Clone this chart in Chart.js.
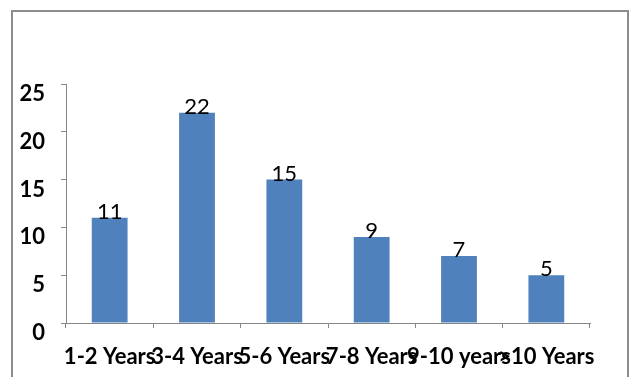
<!DOCTYPE html>
<html>
<head>
<meta charset="utf-8">
<script src="https://cdn.jsdelivr.net/npm/chart.js@4/dist/chart.umd.min.js"></script>
<style>
    body { margin: 0; background: #fff; }
    #frame {
        position: absolute; left: 11px; top: 10px; width: 614px; height: 400px;
        border: 2px solid #8c8c8c; border-bottom: none;
    }
    #experienceChart { position: absolute; left: 0; top: 0; }
</style>
</head>
<body>
<div id="frame"></div>
<canvas id="experienceChart" width="633" height="377"></canvas>
<script>
    const categories = ['1-2 Years', '3-4 Years', '5-6 Years', '7-8 Years', '9-10 years', '>10 Years'];
    const counts = [11, 22, 15, 9, 7, 5];
    const yTicks = [0, 5, 10, 15, 20, 25];

    const axisColor = '#868686';

    // values written just above each bar
    const barValueLabels = {
        id: 'barValueLabels',
        afterDatasetsDraw(chart) {
            const ctx = chart.ctx;
            const meta = chart.getDatasetMeta(0);
            ctx.save();
            ctx.font = '22px Lato';
            ctx.fillStyle = '#000';
            ctx.textAlign = 'center';
            ctx.textBaseline = 'alphabetic';
            meta.data.forEach((bar, i) => {
                ctx.fillText(String(counts[i]), bar.x, bar.y + 1);
            });
            ctx.restore();
        }
    };

    const ctx = document.getElementById('experienceChart').getContext('2d');
    new Chart(ctx, {
        type: 'bar',
        data: {
            labels: categories,
            datasets: [{
                data: counts,
                backgroundColor: '#4F81BD',
                barPercentage: 0.41,
                categoryPercentage: 1.0
            }]
        },
        options: {
            responsive: false,
            animation: false,
            layout: { padding: { left: 0, top: 84, right: 43, bottom: 0 } },
            plugins: { legend: { display: false }, tooltip: { enabled: false } },
            scales: {
                x: {
                    offset: true,
                    grid: { offset: true, drawOnChartArea: false, drawTicks: true, tickLength: 5, color: axisColor },
                    border: { color: axisColor, width: 1 },
                    ticks: {
                        autoSkip: false, maxRotation: 0, minRotation: 0,
                        color: '#000', padding: 16,
                        font: { family: 'Lato', size: 22, weight: 'bold' }
                    },
                    afterFit(scale) { scale.height = 54; }
                },
                y: {
                    min: 0, max: 25,
                    afterBuildTicks(scale) { scale.ticks = yTicks.map(v => ({ value: v })); },
                    grid: { drawOnChartArea: false, drawTicks: true, tickLength: 5, color: axisColor },
                    border: { color: axisColor, width: 1 },
                    ticks: {
                        color: '#000', padding: 16, labelOffset: 10,
                        font: { family: 'Lato', size: 22, weight: 'bold' }
                    },
                    afterFit(scale) { scale.width = 66; }
                }
            }
        },
        plugins: [barValueLabels]
    });
</script>
</body>
</html>
